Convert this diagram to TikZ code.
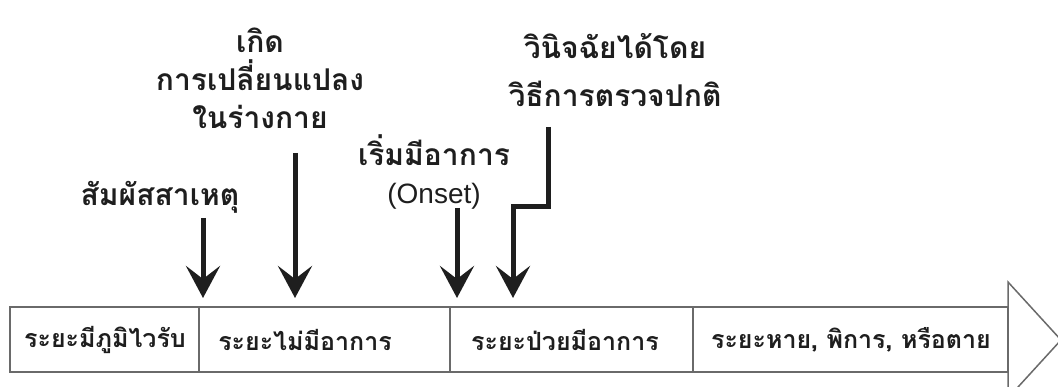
\documentclass[tikz,border=0pt]{standalone}
\usepackage{fontspec}
\setmainfont{Liberation Sans}
\newfontfamily\thaifont[Script=Thai]{Loma}
\newfontfamily\latinfont{Liberation Sans}
\usetikzlibrary{arrows.meta}
\definecolor{ink}{HTML}{1E1E1E}
\definecolor{boxline}{HTML}{6A6A6A}
\tikzset{
  lbl/.style={font=\thaifont\bfseries\fontsize{30}{38}\selectfont, text=ink, align=center, inner sep=0pt},
  boxtxt/.style={font=\thaifont\bfseries\fontsize{25}{28}\selectfont, text=ink, inner sep=0pt},
  evarrow/.style={draw=ink, line width=5pt, -{Stealth[length=32pt,width=34pt,inset=13pt]}},
  frame/.style={draw=boxline, line width=1.5pt}
}
\begin{document}
\begin{tikzpicture}[x=1pt,y=-1pt]
\useasboundingbox (0,0) rectangle (1058,387);
% timeline box and arrow head
\draw[frame, fill=white] (1008,282) -- (1061,340) -- (1008,398) -- cycle;
\draw[frame] (10,307) rectangle (1008,372);
\draw[frame] (199,307) -- (199,372);
\draw[frame] (450,307) -- (450,372);
\draw[frame] (693,307) -- (693,372);
% box texts
\node[boxtxt] (p1) at (105,340) {ระยะมีภูมิไวรับ};
\node[boxtxt] (p2) at (305,340) {ระยะไม่มีอาการ};
\node[boxtxt] (p3) at (565,340) {ระยะป่วยมีอาการ};
\node[boxtxt] (p4) at (851,340) {ระยะหาย, พิการ, หรือตาย};
% labels
\node[lbl] (l1) at (160,197) {สัมผัสสาเหตุ};
\node[lbl] (l2) at (260,78) {เกิด\\การเปลี่ยนแปลง\\ในร่างกาย};
\node[lbl] (l3) at (434,172) {เริ่มมีอาการ\\{\latinfont\mdseries\fontsize{28}{30}\selectfont(Onset)}};
\node[lbl] (l4) at (615,70) {วินิจฉัยได้โดย\\[10pt]วิธีการตรวจปกติ};
% arrow coordinates
\coordinate (a1s) at (203,218);
\coordinate (a1e) at (203,298);
\coordinate (a2s) at (295,153);
\coordinate (a2e) at (295,298);
\coordinate (a3s) at (457,208);
\coordinate (a3e) at (457,298);
\coordinate (a4s) at (548,127);
\coordinate (a4m) at (548,207);
\coordinate (a4n) at (513,207);
\coordinate (a4e) at (513,298);
\draw[evarrow] (a1s) -- (a1e);
\draw[evarrow] (a2s) -- (a2e);
\draw[evarrow] (a3s) -- (a3e);
\draw[evarrow] (a4s) -- (a4m) -- (a4n) -- (a4e);
\end{tikzpicture}
\end{document}
